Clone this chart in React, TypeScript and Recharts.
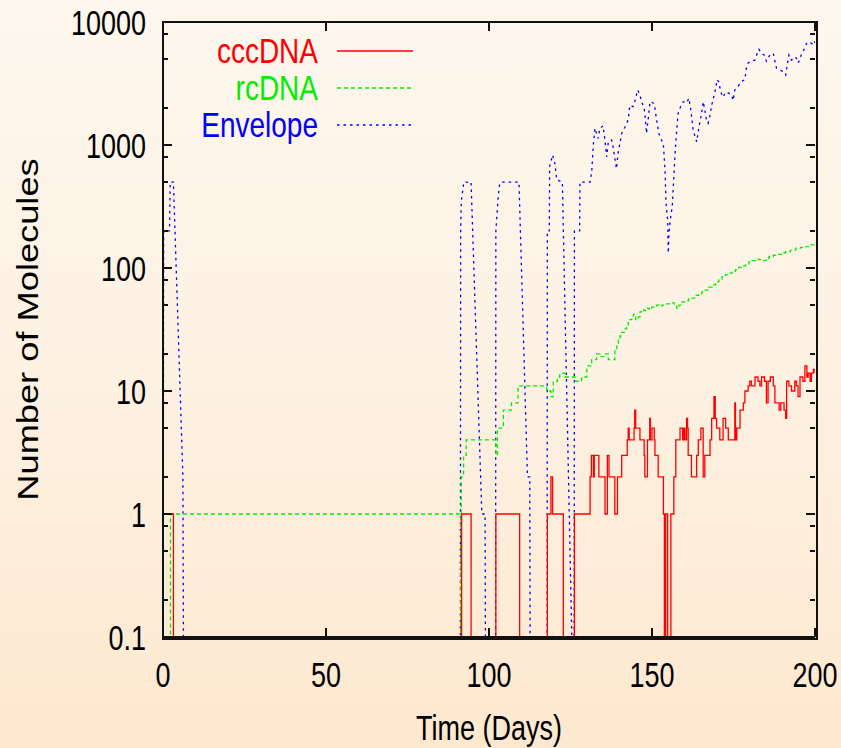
import React from 'react';
import { LineChart, Line, XAxis, YAxis, Legend } from 'recharts';

// ---- axis ticks ----
const xTicks = [0, 50, 100, 150, 200];
const yTicks = [0.1, 0.2, 0.5, 0.8, 1, 2, 5, 8, 10, 20, 50, 80, 100, 200, 500, 800, 1000, 2000, 5000, 8000, 10000];

// ---- cccDNA (red, step) ----
const cccTimes = [0, 3.2, 91.6, 94.5, 102.1, 109.4, 117.9, 119.0, 119.5, 122.8,
  126.2, 131.0, 131.4, 132.0, 132.3, 133.7, 135.6, 136.3, 136.8, 138.6,
  139.4, 140.7, 142.4, 142.7, 143.0, 144.5, 144.7, 145.0, 146.3, 147.6,
  147.8, 148.6, 149.3, 149.5, 150.0, 150.7, 150.9, 151.9, 153.5, 153.8,
  154.2, 154.8, 155.8, 156.7, 157.3, 158.6, 159.4, 159.8, 160.1, 160.6,
  160.9, 161.1, 162.1, 163.7, 164.2, 165.0, 165.7, 166.2, 167.8, 168.3,
  169.0, 169.4, 169.8, 170.8, 171.8, 172.6, 173.4, 175.4, 175.6, 176.0,
  177.0, 178.0, 178.5, 179.5, 180.0, 180.5, 181.6, 182.5, 183.1, 183.6,
  184.5, 185.1, 185.6, 186.3, 187.2, 187.7, 189.0, 189.5, 190.5, 191.0,
  191.3, 192.0, 192.8, 193.8, 194.3, 194.8, 195.4, 196.3, 196.9, 197.5,
  197.9, 198.5, 198.9, 199.5, 200];
const cccValues = [1, 0, 1, 0, 1, 0, 1, 2, 1, 0,
  1, 2, 3, 2, 3, 2, 1, 3, 2, 1,
  2, 3, 4, 5, 4, 5, 7, 5, 4, 3,
  2, 4, 6, 4, 5, 4, 3, 2, 1, 0,
  1, 0, 1, 2, 4, 5, 4, 5, 4, 6,
  5, 3, 2, 3, 4, 5, 2, 3, 4, 6,
  9, 6, 5, 4, 6, 5, 4, 8, 4, 5,
  7, 8, 10, 11, 12, 11, 13, 12, 11, 13,
  12, 8, 12, 13, 11, 8, 7, 8, 7, 6,
  12, 11, 10, 12, 11, 9, 13, 12, 16, 13,
  14, 12, 14, 15, 14];

// ---- rcDNA (green, step) ----
const rcTimes = [0, 2.3, 91.3, 91.5, 92.2, 93.0, 102.1, 102.6, 104.4, 106.9,
  108.9, 117.7, 119.0, 119.7, 121.0, 121.7, 123.3, 126.4, 128.4, 130.0,
  131.5, 133.0, 134.0, 135.5, 136.6, 138.6, 139.2, 139.7, 140.2, 140.7,
  141.5, 142.2, 142.7, 143.2, 143.8, 144.3, 145.0, 145.8, 146.3, 146.8,
  147.5, 148.4, 149.2, 149.9, 150.6, 151.4, 152.2, 153.0, 154.5, 156.1,
  156.8, 157.6, 158.3, 159.2, 160.2, 161.2, 162.2, 163.3, 164.3, 165.3,
  166.3, 167.4, 168.4, 169.5, 170.5, 171.5, 172.5, 173.6, 174.6, 175.6,
  176.6, 177.7, 178.7, 179.7, 180.7, 181.8, 182.8, 183.8, 184.9, 185.9,
  187.2, 188.5, 189.8, 191.0, 192.5, 194.1, 195.6, 197.2, 198.5, 199.7, 200];
const rcValues = [0, 1, 0, 2, 3, 4, 3, 5, 7, 8,
  11, 10, 9, 12, 13, 14, 13, 12, 13, 16,
  18, 20, 19, 20, 18, 22, 24, 26, 28, 30,
  32, 34, 36, 38, 40, 42, 38, 40, 44, 46,
  45, 47, 46, 48, 49, 50, 49, 50, 51, 52,
  49, 47, 50, 53, 54, 56, 57, 60, 62, 64,
  66, 70, 73, 77, 80, 85, 88, 91, 94, 97,
  101, 104, 108, 112, 115, 118, 117, 115, 120, 124,
  127, 129, 133, 136, 140, 145, 147, 149, 154, 158, 160];

// ---- Envelope (blue, lines) ----
const envTimes = [0, 0.2, 2.0, 2.2, 3.2, 6.1, 6.4, 91.2, 91.3, 91.5,
  92.3, 94.5, 97.8, 98.8, 99.0, 102.0, 102.1, 102.8, 103.2, 103.6,
  109.2, 111.8, 112.5, 112.7, 117.8, 117.9, 118.5, 118.6, 119.5, 120.2,
  120.8, 122.5, 125.4, 125.5, 126.1, 126.2, 127.8, 127.9, 131.0, 131.5,
  132.0, 132.5, 133.5, 134.0, 135.0, 135.5, 136.1, 136.6, 137.6, 138.1,
  139.1, 139.6, 140.7, 141.7, 142.7, 143.2, 144.2, 144.8, 145.6, 146.3,
  146.8, 147.6, 148.0, 148.3, 148.8, 149.4, 150.4, 150.9, 151.4, 152.1,
  152.9, 153.5, 154.0, 154.3, 154.8, 155.0, 155.2, 155.6, 156.2, 156.6,
  157.0, 157.5, 158.0, 158.9, 159.6, 160.6, 161.3, 161.9, 162.6, 163.7,
  164.4, 165.2, 165.7, 166.2, 166.7, 167.2, 167.7, 168.3, 169.3, 170.0,
  170.5, 171.1, 171.8, 172.6, 173.4, 174.4, 174.9, 175.4, 176.4, 177.5,
  178.5, 179.0, 179.5, 180.5, 181.6, 182.4, 182.8, 183.6, 184.4, 185.1,
  185.6, 186.2, 187.2, 187.7, 188.2, 189.2, 190.2, 191.0, 191.6, 192.0,
  192.8, 193.6, 194.3, 194.8, 195.3, 195.9, 196.7, 197.4, 197.9, 198.9,
  199.7, 200];
const envValues = [0, 200, 200, 500, 500, 2, 0, 0, 200, 350,
  500, 500, 1, 1, 0, 0, 200, 370, 470, 500,
  500, 2, 2, 0, 0, 200, 200, 670, 830, 710,
  520, 500, 0.1, 0, 0, 200, 200, 500, 500, 600,
  1000, 1370, 1130, 1370, 1430, 1130, 800, 1060, 1100, 950,
  640, 860, 1240, 1400, 1600, 2100, 2050, 2300, 2800, 2550,
  2250, 2000, 1600, 1240, 1600, 2250, 2200, 2000, 1600, 1240,
  1100, 1000, 626, 335, 246, 132, 190, 246, 315, 490,
  780, 1240, 1800, 2100, 2250, 2200, 2400, 1930, 1330, 1060,
  1400, 1800, 2250, 1930, 1600, 1500, 1700, 2100, 2700, 3400,
  3250, 2700, 2450, 2700, 2650, 2550, 2300, 2800, 3000, 3300,
  3400, 4300, 4650, 4800, 4900, 5700, 6000, 5560, 5400, 4800,
  5100, 5400, 5560, 4800, 4200, 4070, 3950, 3700, 4650, 5400,
  4900, 5200, 5100, 4650, 4900, 5560, 6000, 6700, 6900, 6700,
  6500, 7000];

// zero counts cannot sit on a log axis: they are drawn below the frame and clipped
const FLOOR = 0.01;
const toRows = (ts: number[], vs: number[]) =>
  ts.map((t, i) => ({ t, v: Math.max(vs[i], FLOOR) }));

const cccRows = toRows(cccTimes, cccValues);
const rcRows = toRows(rcTimes, rcValues);
const envRows = toRows(envTimes, envValues);

const SERIES = [
  { name: 'cccDNA', color: '#ff0000', dash: undefined as string | undefined },
  { name: 'rcDNA', color: '#00ee00', dash: '4 3' },
  { name: 'Envelope', color: '#0000ff', dash: '2.5 4' },
];

// ---- layout ----
const W = 841, H = 748;
const M = { top: 22, right: 26, bottom: 0, left: 0 };
const Y_AXIS_W = 163, X_AXIS_H = 111;
const PLOT_W = W - M.left - M.right - Y_AXIS_W;
const PLOT_H = H - M.top - M.bottom - X_AXIS_H;

const FONT = '"Liberation Sans", Arial, Helvetica, sans-serif';
const FRAME = '#111111';
const VS = 1.3; // vertical stretch of the lettering in the original

const isMajor = (v: number) => {
  const l = Math.log10(v);
  return Math.abs(l - Math.round(l)) < 1e-6;
};

// bottom ticks (inward) + mirrored ticks on the top edge
const XTickBottom = (p: any) => {
  const x = Number(p.x), y = Number(p.y);
  const top = y - PLOT_H;
  return (
    <g>
      <path d={`M${x},${y}V${y - 9}M${x},${top}V${top + 9}`} stroke={FRAME} strokeWidth={2} fill="none" />
      <text transform={`translate(${x},${y + 50}) scale(1,${VS})`} textAnchor="middle"
        fontSize={27} fontFamily={FONT} fill="#000">{p.payload.value}</text>
    </g>
  );
};
// left ticks (inward) + mirrored ticks on the right edge
const YTickLeft = (p: any) => {
  const x = Number(p.x), y = Number(p.y);
  const major = isMajor(p.payload.value);
  const len = major ? 9 : 5;
  const right = x + PLOT_W;
  return (
    <g>
      <path d={`M${x},${y}H${x + len}M${right},${y}H${right - len}`} stroke={FRAME} strokeWidth={2} fill="none" />
      {major && (
        <text transform={`translate(${x - 17},${y + 12.5}) scale(1,${VS})`} textAnchor="end"
          fontSize={27} fontFamily={FONT} fill="#000">{String(p.payload.value)}</text>
      )}
    </g>
  );
};

const XTitle = (p: any) => {
  const vb = p.viewBox || { x: 163, y: 637, width: 652, height: 111 };
  return (
    <text transform={`translate(${vb.x + vb.width / 2},${vb.y + 103}) scale(1,${VS})`}
      textAnchor="middle" fontSize={27} fontFamily={FONT} fill="#000">Time (Days)</text>
  );
};
const YTitle = (p: any) => {
  const vb = p.viewBox || { x: 0, y: 22, width: 163, height: 615 };
  return (
    <text transform={`translate(${vb.x + 38},${vb.y + vb.height / 2}) rotate(-90) scale(1.25,1)`}
      textAnchor="middle" fontSize={29} fontFamily={FONT} fill="#000">Number of Molecules</text>
  );
};

const LegendBox = () => (
  <svg width={300} height={150} style={{ overflow: 'visible', display: 'block' }}>
    {SERIES.map((s, i) => (
      <g key={s.name}>
        <text transform={`translate(155,${63 + 37 * i}) scale(1,1.25)`} textAnchor="end"
          fontSize={28} fontFamily={FONT} fill={s.color}>{s.name}</text>
        <line x1={174} x2={250} y1={51 + 37 * i} y2={51 + 37 * i} stroke={s.color}
          strokeDasharray={s.dash} strokeWidth={1.3} />
      </g>
    ))}
  </svg>
);

export default function App() {
  const frameLeft = M.left + Y_AXIS_W - 1;
  const frameTop = M.top - 1;
  return (
    <div style={{
      position: 'absolute', left: 0, top: 0, width: W, height: H,
      background: 'linear-gradient(to bottom, #fdf7ee 0%, #fdf1e2 50%, #fde8cf 100%)',
    }}>
      <LineChart width={W} height={H} margin={M} style={{ overflow: 'visible' }}>
        <XAxis xAxisId="bottom" dataKey="t" type="number" domain={[0, 200]} allowDataOverflow
          ticks={xTicks} interval={0} height={X_AXIS_H} tickSize={0} tickMargin={0} tickLine={false}
          axisLine={{ stroke: FRAME, strokeWidth: 2 }} tick={(p: any) => <XTickBottom {...p} />}
          label={(p: any) => <XTitle {...p} />} />
        <YAxis yAxisId="left" orientation="left" type="number" scale="log" domain={[0.1, 10000]}
          allowDataOverflow ticks={yTicks} interval={0} width={Y_AXIS_W} tickSize={0} tickMargin={0}
          tickLine={false} axisLine={{ stroke: FRAME, strokeWidth: 2 }}
          tick={(p: any) => <YTickLeft {...p} />} label={(p: any) => <YTitle {...p} />} />
        <Line xAxisId="bottom" yAxisId="left" data={envRows} dataKey="v" name="Envelope"
          type="linear" stroke="#0000ff" strokeWidth={1.3} strokeDasharray="2.5 4"
          dot={false} activeDot={false} isAnimationActive={false} />
        <Line xAxisId="bottom" yAxisId="left" data={rcRows} dataKey="v" name="rcDNA"
          type="stepAfter" stroke="#00ee00" strokeWidth={1.3} strokeDasharray="4 3"
          dot={false} activeDot={false} isAnimationActive={false} />
        <Line xAxisId="bottom" yAxisId="left" data={cccRows} dataKey="v" name="cccDNA"
          type="stepAfter" stroke="#ff0000" strokeWidth={1.3}
          dot={false} activeDot={false} isAnimationActive={false} />
        <Legend layout="horizontal" verticalAlign="middle" align="center"
          content={() => <LegendBox />}
          wrapperStyle={{ left: 163, top: 0, width: 300, height: 150 }} />
      </LineChart>
      {/* plot frame (gnuplot-style border) */}
      <div style={{
        position: 'absolute', left: frameLeft, top: frameTop,
        width: PLOT_W, height: PLOT_H, borderStyle: 'solid', borderColor: FRAME,
        borderWidth: 2, boxSizing: 'content-box', pointerEvents: 'none', zIndex: 5,
      }} />
      {/* top edge drawn separately so it is never hidden behind the legend layer */}
      <div style={{
        position: 'absolute', left: frameLeft, top: frameTop, width: PLOT_W + 4, height: 2,
        background: FRAME, pointerEvents: 'none', zIndex: 10,
      }} />
    </div>
  );
}
